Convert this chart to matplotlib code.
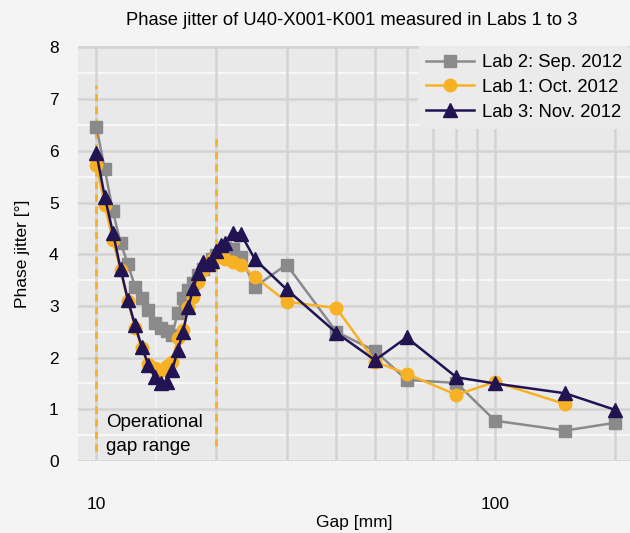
import numpy as np
import matplotlib
matplotlib.use("Agg")
import matplotlib.pyplot as plt

plt.rcParams['font.family'] = ['Liberation Sans', 'DejaVu Sans']

# gap values [mm]
gap_fine = [10, 10.5, 11, 11.5, 12, 12.5, 13, 13.5, 14, 14.5, 15, 15.5, 16, 16.5,
            17, 17.5, 18, 18.5, 19, 19.5, 20, 20.5, 21, 22, 23, 25, 30, 40, 50, 60,
            80, 100, 150, 200]

# Lab 2: Sep. 2012
lab2 = [6.47, 5.64, 4.83, 4.22, 3.81, 3.37, 3.16, 2.92, 2.67, 2.58, 2.51, 2.44, 2.87, 3.16,
        3.30, 3.45, 3.60, 3.72, 3.82, 3.90, 3.98, 4.05, 4.12, 4.10, 3.95, 3.37, 3.80, 2.50,
        2.13, 1.57, 1.51, 0.78, 0.59, 0.74]

# Lab 1: Oct. 2012 (no 200 mm point)
lab1 = [5.72, 4.95, 4.27, 3.69, 3.10, 2.58, 2.18, 1.88, 1.80, 1.77, 1.84, 1.92, 2.37, 2.53,
        2.98, 3.17, 3.46, 3.69, 3.80, 3.88, 3.95, 4.00, 3.90, 3.85, 3.80, 3.56, 3.08, 2.96,
        1.92, 1.69, 1.28, 1.53, 1.10]

# Lab 3: Nov. 2012
lab3 = [5.95, 5.11, 4.42, 3.72, 3.11, 2.63, 2.21, 1.86, 1.63, 1.50, 1.53, 1.77, 2.14, 2.50,
        2.97, 3.34, 3.64, 3.84, 3.82, 3.86, 4.06, 4.18, 4.22, 4.42, 4.40, 3.90, 3.32, 2.48,
        1.95, 2.39, 1.62, 1.50, 1.31, 0.99]

# operational gap range markers
op_gap = [10, 20]
op_top = [7.27, 6.3]
op_bottom = [0.2, 0.3]

grid_x = [10, 20, 30, 40, 50, 60, 70, 80, 90, 100, 200]
grid_x_white = [14.14]
y_major = [0, 1, 2, 3, 4, 5, 6, 7, 8]
y_minor = [0.5, 1.5, 2.5, 3.5, 4.5, 5.5, 6.5, 7.5]

c_gray = '#8a8a8a'
c_orange = '#f7b125'
c_navy = '#221452'

fig = plt.figure(figsize=(6.3, 5.33), dpi=100, facecolor='#f4f4f4')
ax = fig.add_axes([0.124, 0.135, 0.876, 0.779])
ax.set_facecolor('#e9e9e9')
ax.set_xscale('log')
ax.set_xlim(9.0, 218)
ax.set_ylim(0, 8.03)

for v in y_minor:
    ax.axhline(v, color='#f7f7f7', lw=1.6, zorder=0.5)
for v in y_major:
    ax.axhline(v, color='#d3d3d3', lw=1.8, zorder=0.6)
for v in grid_x_white:
    ax.axvline(v, color='#f3f3f3', lw=1.4, zorder=0.5)
for v in grid_x:
    ax.axvline(v, color='#d3d3d3', lw=1.8, zorder=0.6)

ax.vlines(op_gap, op_bottom, op_top, colors=c_orange, lw=2, linestyles=(0, (2.6, 1.9)), zorder=1)

ax.plot(gap_fine, lab2, color=c_gray, lw=1.8, marker='s', ms=8, mec=c_gray, mfc=c_gray,
        label='Lab 2: Sep. 2012', zorder=2)
ax.plot(gap_fine[:len(lab1)], lab1, color=c_orange, lw=1.8, marker='o', ms=9, mec=c_orange,
        mfc=c_orange, label='Lab 1: Oct. 2012', zorder=3)
ax.plot(gap_fine, lab3, color=c_navy, lw=1.8, marker='^', ms=10, mec=c_navy, mfc=c_navy,
        label='Lab 3: Nov. 2012', zorder=4)

ax.text(10.6, 0.12, 'Operational\ngap range', fontsize=13.5, ha='left', va='bottom',
        linespacing=1.55, zorder=5)

ax.set_xticks([10, 100])
ax.set_xticklabels(['10', '100'])
ax.xaxis.set_minor_locator(matplotlib.ticker.NullLocator())
ax.set_yticks(y_major)
ax.tick_params(axis='both', length=0, labelsize=12.5)
ax.tick_params(axis='x', pad=26)
ax.tick_params(axis='y', pad=14)
for s in ax.spines.values():
    s.set_visible(False)

ax.set_xlabel('Gap [mm]', fontsize=12.5, labelpad=2)
ax.set_ylabel('Phase jitter [°]', fontsize=12.5)
ax.yaxis.set_label_coords(-0.087, 0.5)
fig.text(0.558, 0.962, 'Phase jitter of U40-X001-K001 measured in Labs 1 to 3', fontsize=13.2,
         ha='center', va='center')

leg = ax.legend(loc='upper right', bbox_to_anchor=(1.0, 1.0), fontsize=13.3, frameon=True,
                facecolor='#ebebeb', edgecolor='none', framealpha=1, handlelength=2.6,
                borderaxespad=0, borderpad=0.45, labelspacing=0.42, handletextpad=0.4)
leg.set_zorder(10)

fig.savefig('out.png', dpi=100, facecolor=fig.get_facecolor())
